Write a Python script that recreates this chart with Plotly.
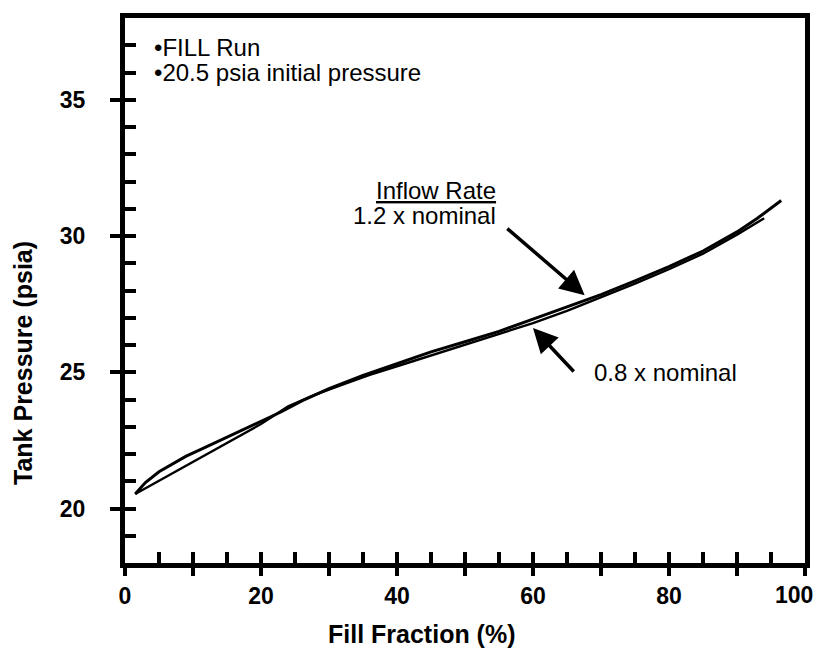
import plotly.graph_objects as go

# ---- data ----
fill_hi = [1.5, 3, 5, 7, 9, 11, 14, 17, 20, 23, 26, 30, 35, 40, 45, 50, 55, 60, 65, 70, 75, 80, 85, 90, 93, 96.5]
pres_hi = [20.53, 20.95, 21.35, 21.65, 21.92, 22.15, 22.5, 22.85, 23.2, 23.55, 23.95, 24.4, 24.88, 25.32, 25.75, 26.12, 26.5, 26.95, 27.4, 27.85, 28.35, 28.88, 29.45, 30.15, 30.65, 31.3]

fill_lo = [1.5, 5, 10, 15, 20, 24, 28, 32, 36, 40, 45, 50, 55, 60, 65, 70, 75, 80, 85, 90, 94]
pres_lo = [20.53, 21.02, 21.72, 22.42, 23.1, 23.75, 24.18, 24.55, 24.9, 25.22, 25.62, 26.02, 26.4, 26.8, 27.25, 27.75, 28.25, 28.78, 29.35, 30.05, 30.65]

x_major = [0, 10, 20, 30, 40, 50, 60, 70, 80, 90, 100]
x_labels = ["0", "", "20", "", "40", "", "60", "", "80", "", ""]
x_last_label = "100"   # drawn as annotation so it stays inside the page
x_minor = list(range(0, 101, 5))
y_major = [20, 25, 30, 35]
y_minor = list(range(18, 39))

FONT = "Liberation Sans, Arial, Helvetica, sans-serif"

fig = go.Figure()
fig.add_trace(go.Scatter(x=fill_hi, y=pres_hi, mode="lines",
                         line=dict(color="black", width=3), showlegend=False))
fig.add_trace(go.Scatter(x=fill_lo, y=pres_lo, mode="lines",
                         line=dict(color="black", width=2.4), showlegend=False))
# invisible trace to host the inner-tick overlay axes
fig.add_trace(go.Scatter(x=[None], y=[None], xaxis="x2", yaxis="y2",
                         showlegend=False, hoverinfo="skip"))

common = dict(showgrid=False, zeroline=False, automargin=False)
fig.update_layout(
    width=819, height=651,
    margin=dict(l=125, r=14, t=18, b=88),
    paper_bgcolor="white", plot_bgcolor="white",
    font=dict(family=FONT, color="black"),
    xaxis=dict(range=[0, 100], tickmode="array", tickvals=x_major, ticktext=x_labels,
               ticks="outside", ticklen=8, tickwidth=4, tickcolor="black",
               showline=True, linewidth=5, linecolor="black", mirror=True,
               tickfont=dict(size=23, family=FONT, weight="bold"), **common),
    yaxis=dict(range=[18, 38], tickmode="array", tickvals=y_major,
               ticks="outside", ticklen=10, tickwidth=4, tickcolor="black",
               showline=True, linewidth=5, linecolor="black", mirror=True,
               ticklabelstandoff=20,
               tickfont=dict(size=23, family=FONT, weight="bold"), **common),
    xaxis2=dict(range=[0, 100], overlaying="x", anchor="y", side="bottom",
                tickmode="array", tickvals=x_minor, ticks="inside", ticklen=11,
                tickwidth=4, tickcolor="black", showticklabels=False,
                showline=False, **common),
    yaxis2=dict(range=[18, 38], overlaying="y", anchor="x", side="left",
                tickmode="array", tickvals=y_minor, ticks="inside", ticklen=11,
                tickwidth=4, tickcolor="black", showticklabels=False,
                showline=False, **common),
)

txt = dict(family=FONT, size=24, color="black")
bold = dict(family=FONT, size=25, color="black", weight="bold")
tickf = dict(family=FONT, size=23, color="black", weight="bold")
annos = [
    dict(x=100, y=-0.0587, xref="x", yref="paper", text=x_last_label, showarrow=False,
         font=tickf, xanchor="center", yanchor="middle", xshift=-11),
    dict(x=0.437, y=-0.13, xref="paper", yref="paper", text="Fill Fraction (%)",
         showarrow=False, font=bold, xanchor="center", yanchor="middle"),
    dict(x=-0.15, y=0.367, xref="paper", yref="paper", text="Tank Pressure (psia)",
         showarrow=False, font=bold, textangle=-90, xanchor="center", yanchor="middle"),
    dict(x=4.0, y=36.92, xref="x", yref="y", text="•FILL Run", showarrow=False,
         font=txt, xanchor="left", yanchor="middle"),
    dict(x=4.0, y=36.0, xref="x", yref="y", text="•20.5 psia initial pressure",
         showarrow=False, font=txt, xanchor="left", yanchor="middle"),
    dict(x=54.9, y=31.68, xref="x", yref="y", text="<u>Inflow Rate</u>",
         showarrow=False, font=txt, xanchor="right", yanchor="middle"),
    dict(x=54.9, y=30.76, xref="x", yref="y", text="1.2 x nominal",
         showarrow=False, font=txt, xanchor="right", yanchor="middle"),
    dict(x=68.7, y=25.0, xref="x", yref="y", text="0.8 x nominal",
         showarrow=False, font=txt, xanchor="left", yanchor="middle"),
    dict(x=67.6, y=27.83, xref="x", yref="y", ax=56.0, ay=30.32, axref="x", ayref="y",
         text="", showarrow=True, arrowhead=2, arrowsize=1.4, arrowwidth=3.5,
         arrowcolor="black"),
    dict(x=60.0, y=26.62, xref="x", yref="y", ax=66.2, ay=24.97, axref="x", ayref="y",
         text="", showarrow=True, arrowhead=2, arrowsize=1.4, arrowwidth=3.5,
         arrowcolor="black"),
]
fig.update_layout(annotations=annos)

fig.write_html("out.html")
